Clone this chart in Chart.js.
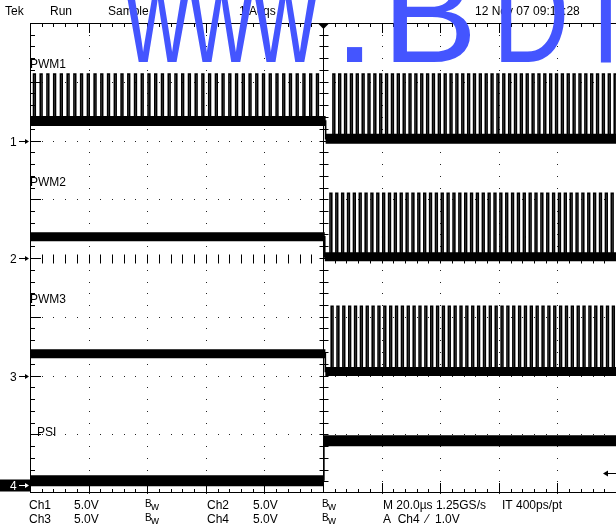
<!DOCTYPE html>
<html><head><meta charset="utf-8">
<script src="https://cdn.jsdelivr.net/npm/chart.js@4/dist/chart.umd.min.js"></script>
<style>html,body{margin:0;padding:0;background:#fff;overflow:hidden}#wrap{position:relative;width:616px;height:529px}</style>
</head><body><div id="wrap"><canvas id="c" width="616" height="529"></canvas></div>
<script>
// ---- data (time in µs, levels in volts relative to each channel's ground) ----
const channelNames = ['PWM1', 'PWM2', 'PWM3', 'PSI'];
const voltsPerDiv = [5.0, 5.0, 5.0, 5.0];
// [level before trigger, level after trigger, pulse high level]
const pwm1Levels = [1.65, 0.15, 5.65];
const pwm2Levels = [1.80, 0.10, 5.50];
const pwm3Levels = [1.85, 0.35, 5.90];
const psiLevels  = [0.35, 3.75];
const switchTimes = [0.9, 0.6, 0.8, 0.3];   // µs where each trace changes state
const pulseWidthUs = 0.6;
// pulse start times (µs)
const pwm1PrePulses = [-98.8,-96.5,-94.2,-91.9,-89.6,-87.3,-85.0,-82.7,-80.4,-78.1,-75.8,-73.5,-71.2,-68.9,-66.6,-64.3,-62.0,-59.7,-57.4,-55.1,-52.8,-50.5,-48.2,-45.9,-43.6,-41.3,-39.0,-36.7,-34.4,-32.1,-29.8,-27.5,-25.2,-22.9,-20.6,-18.3,-16.0,-13.7,-11.4,-9.1,-6.8,-4.5,-2.2];
const pwm1PostPulses = [3.4,5.4,7.4,9.4,11.4,13.4,15.4,17.4,19.4,21.4,23.4,25.4,27.4,29.4,31.4,33.4,35.4,37.4,39.4,41.4,43.4,45.4,47.4,49.4,51.4,53.4,55.4,57.4,59.4,61.4,63.4,65.4,67.4,69.4,71.4,73.4,75.4,77.4,79.4,81.4,83.4,85.4,87.4,89.4,91.4,93.4,95.4,97.4,99.4];
const pwm2PostPulses = [2.4,4.4,6.4,8.4,10.4,12.4,14.4,16.4,18.4,20.4,22.4,24.4,26.4,28.4,30.4,32.4,34.4,36.4,38.4,40.4,42.4,44.4,46.4,48.4,50.4,52.4,54.4,56.4,58.4,60.4,62.4,64.4,66.4,68.4,70.4,72.4,74.4,76.4,78.4,80.4,82.4,84.4,86.4,88.4,90.4,92.4,94.4,96.4,98.4];
const pwm3PostPulses = [2.8,4.8,6.8,8.8,10.8,12.8,14.8,16.8,18.8,20.8,22.8,24.8,26.8,28.8,30.8,32.8,34.8,36.8,38.8,40.8,42.8,44.8,46.8,48.8,50.8,52.8,54.8,56.8,58.8,60.8,62.8,64.8,66.8,68.8,70.8,72.8,74.8,76.8,78.8,80.8,82.8,84.8,86.8,88.8,90.8,92.8,94.8,96.8,98.8];
// header / footer text
const headerTexts = ['Tek', 'Run', 'Sample', '1 Acqs', '12 Nov 07 09:17:28'];
const footerRow1 = ['Ch1', '5.0V', 'Bw', 'Ch2', '5.0V', 'Bw', 'M 20.0µs 1.25GS/s', 'IT 400ps/pt'];
const footerRow2 = ['Ch3', '5.0V', 'Bw', 'Ch4', '5.0V', 'Bw', 'A  Ch4  ⁄  1.0V'];
const triggerLevelV = 1.0;
const watermark = ['www', '.', 'B', 'D', 'TIC.com'];

// ---- layout / style ----
const groundDiv = [6.0, 4.0, 2.0, 0.14];   // channel ground positions (divisions from bottom)
const toDiv = (ch, v) => groundDiv[ch] + v / voltsPerDiv[ch];

function waveform(ch, levels, prePulses, postPulses, tSw) {
  const pre = levels[0], post = levels[1], hi = levels[2];
  const pts = [{x: -100, y: toDiv(ch, pre)}];
  for (const t of prePulses) {
    pts.push({x: t, y: toDiv(ch, pre)}, {x: t, y: toDiv(ch, hi)}, {x: t + pulseWidthUs, y: toDiv(ch, hi)}, {x: t + pulseWidthUs, y: toDiv(ch, pre)});
  }
  pts.push({x: tSw, y: toDiv(ch, pre)}, {x: tSw, y: toDiv(ch, post)});
  for (const t of postPulses) {
    pts.push({x: t, y: toDiv(ch, post)}, {x: t, y: toDiv(ch, hi)}, {x: t + pulseWidthUs, y: toDiv(ch, hi)}, {x: t + pulseWidthUs, y: toDiv(ch, post)});
  }
  pts.push({x: 100, y: toDiv(ch, post)});
  return pts;
}
function band(ch, pre, post, tSw) {
  return [{x: -100, y: toDiv(ch, pre)}, {x: tSw, y: toDiv(ch, pre)}, {x: tSw, y: null}, {x: tSw, y: toDiv(ch, post)}, {x: 100, y: toDiv(ch, post)}];
}
const lineDs = (data, w) => ({data, borderColor: '#000', borderWidth: w, pointRadius: 0, tension: 0, fill: false, spanGaps: false, borderCapStyle: 'butt', borderJoinStyle: 'miter'});

const datasets = [
  lineDs(band(0, pwm1Levels[0], pwm1Levels[1], switchTimes[0]), 10),
  lineDs(waveform(0, pwm1Levels, pwm1PrePulses, pwm1PostPulses, switchTimes[0]), 1.6),
  lineDs(band(1, pwm2Levels[0], pwm2Levels[1], switchTimes[1]), 9),
  lineDs(waveform(1, pwm2Levels, [], pwm2PostPulses, switchTimes[1]), 1.6),
  lineDs(band(2, pwm3Levels[0], pwm3Levels[1], switchTimes[2]), 9),
  lineDs(waveform(2, pwm3Levels, [], pwm3PostPulses, switchTimes[2]), 1.6),
  lineDs(band(3, psiLevels[0], psiLevels[1], switchTimes[3]), 11),
  lineDs([{x: switchTimes[3], y: toDiv(3, psiLevels[0])}, {x: switchTimes[3], y: toDiv(3, psiLevels[1])}], 1.6),
];

const FONT = '12px "Liberation Sans", Arial, sans-serif';

const graticule = {
  id: 'graticule',
  beforeDatasetsDraw(chart) {
    const {ctx, chartArea: a} = chart; const xs = chart.scales.x, ys = chart.scales.y;
    ctx.save();
    ctx.fillStyle = '#222';
    for (let t = -80; t <= 80; t += 20) {
      if (t === 0) continue;
      const px = Math.round(xs.getPixelForValue(t));
      for (let k = 0; k <= 40; k++) { const py = Math.round(ys.getPixelForValue(k * 0.2)); ctx.fillRect(px, py, 1, 1); }
    }
    for (let d = 1; d <= 7; d++) {
      const py = Math.round(ys.getPixelForValue(d));
      for (let k = 0; k <= 50; k++) { const px = Math.round(xs.getPixelForValue(-100 + k * 4)); ctx.fillRect(px, py, 1, 1); }
    }
    ctx.strokeStyle = '#000'; ctx.lineWidth = 1;
    const L = (x1, y1, x2, y2) => { ctx.beginPath(); ctx.moveTo(x1, y1); ctx.lineTo(x2, y2); ctx.stroke(); };
    const cx = Math.round(xs.getPixelForValue(0)) + 0.5;
    L(cx, a.top, cx, a.bottom);
    for (let k = 1; k < 40; k++) { const py = Math.round(ys.getPixelForValue(k * 0.2)) + 0.5; L(cx - 4, py, cx + 5, py); }
    const cy = Math.round(ys.getPixelForValue(4)) + 0.5;
    for (let k = 1; k < 50; k++) { const px = Math.round(xs.getPixelForValue(-100 + k * 4)) + 0.5; L(px, cy - 4, px, cy + 5); }
    const top = a.top + 0.5, bot = a.bottom - 0.5, left = a.left + 0.5;
    L(a.left, top, a.right, top); L(a.left, bot, a.right, bot); L(left, a.top, left, a.bottom);
    for (let k = 1; k < 50; k++) {
      const px = Math.round(xs.getPixelForValue(-100 + k * 4)) + 0.5; const major = k % 5 === 0;
      L(px, a.top, px, a.top + (major ? 10 : 4)); L(px, a.bottom, px, a.bottom - (major ? 10 : 4));
    }
    for (let k = 1; k < 40; k++) {
      const py = Math.round(ys.getPixelForValue(k * 0.2)) + 0.5; const major = k % 5 === 0;
      L(a.left, py, a.left + (major ? 11 : 5), py);
    }
    ctx.fillStyle = '#000'; ctx.beginPath(); ctx.moveTo(cx - 6, a.top); ctx.lineTo(cx + 6, a.top); ctx.lineTo(cx, a.top + 6); ctx.closePath(); ctx.fill();
    ctx.restore();
  },
  afterDraw(chart) {
    const {ctx, chartArea: a} = chart; const ys = chart.scales.y;
    ctx.save();
    ctx.font = FONT; ctx.fillStyle = '#000'; ctx.textBaseline = 'middle'; ctx.textAlign = 'left';
    const labelY = [65, 183, 300, 433]; const labelX = [30, 30, 30, 37];
    channelNames.forEach((n, i) => ctx.fillText(n, labelX[i], labelY[i]));
    ctx.strokeStyle = '#000'; ctx.lineWidth = 1;
    groundDiv.forEach((g, i) => {
      const py = Math.round(ys.getPixelForValue(g)) + 0.5;
      if (i === 3) { ctx.fillStyle = '#000'; ctx.fillRect(0, py - 6, a.left, 12); ctx.fillStyle = '#fff'; ctx.strokeStyle = '#fff'; }
      else { ctx.fillStyle = '#000'; ctx.strokeStyle = '#000'; }
      ctx.fillText(String(i + 1), 10, py + 1);
      ctx.beginPath(); ctx.moveTo(19, py); ctx.lineTo(27, py); ctx.stroke();
      ctx.beginPath(); ctx.moveTo(29, py); ctx.lineTo(25, py - 2.5); ctx.lineTo(25, py + 2.5); ctx.closePath(); ctx.fill();
    });
    ctx.fillStyle = '#000'; ctx.strokeStyle = '#000';
    const ty = Math.round(ys.getPixelForValue(toDiv(3, triggerLevelV))) + 0.5;
    ctx.beginPath(); ctx.moveTo(606, ty); ctx.lineTo(616, ty); ctx.stroke();
    ctx.beginPath(); ctx.moveTo(603, ty); ctx.lineTo(608, ty - 3); ctx.lineTo(608, ty + 3); ctx.closePath(); ctx.fill();
    const hx = [5, 50, 108, 239, 475];
    headerTexts.forEach((t, i) => ctx.fillText(t, hx[i], 12));
    const fx1 = [29, 74, 145, 207, 253, 322, 383, 502];
    const fx2 = [29, 74, 145, 207, 253, 322, 383];
    footerRow1.forEach((t, i) => { if (t === 'Bw') drawBw(ctx, fx1[i], 506); else ctx.fillText(t, fx1[i], 506); });
    footerRow2.forEach((t, i) => { if (t === 'Bw') drawBw(ctx, fx2[i], 520); else ctx.fillText(t, fx2[i], 520); });
    ctx.fillStyle = '#4455ff'; ctx.textBaseline = 'alphabetic';
    ctx.font = '400 140px "Liberation Sans", Arial, sans-serif';
    const BASE = 62;
    const ink = (txt, x0, x1) => {
      const m = ctx.measureText(txt); const w = m.actualBoundingBoxRight + m.actualBoundingBoxLeft;
      const sx = (x1 - x0) / w;
      ctx.save(); ctx.translate(x0, BASE); ctx.scale(sx, 1); ctx.fillText(txt, m.actualBoundingBoxLeft, 0); ctx.restore();
    };
    ink(watermark[0], 125, 318);
    ink(watermark[1], 346, 363);
    ink(watermark[2], 393, 470);
    ink(watermark[3], 501, 565);
    const mT = ctx.measureText('T'); const tW = mT.actualBoundingBoxRight + mT.actualBoundingBoxLeft;
    const sT = 14 / (0.13 * 140);
    ctx.save(); ctx.translate(606 - tW * sT / 2, BASE); ctx.scale(sT, 1); ctx.fillText(watermark[4], mT.actualBoundingBoxLeft, 0); ctx.restore();
    ctx.restore();
  }
};
function drawBw(ctx, x, y) {
  ctx.save(); ctx.font = '10px "Liberation Sans", Arial, sans-serif';
  ctx.fillText('B', x, y - 2); ctx.font = '11px "Liberation Sans", Arial, sans-serif'; ctx.fillText('w', x + 6, y + 1); ctx.restore();
}

new Chart(document.getElementById('c'), {
  type: 'line',
  data: {datasets},
  options: {
    responsive: false, animation: false, devicePixelRatio: 1,
    layout: {padding: {left: 30, top: 23, right: 0, bottom: 36}},
    plugins: {legend: {display: false}, tooltip: {enabled: false}},
    scales: {
      x: {type: 'linear', min: -100, max: 100, display: false},
      y: {type: 'linear', min: 0, max: 8, display: false}
    }
  },
  plugins: [graticule]
});
</script>
</body></html>
